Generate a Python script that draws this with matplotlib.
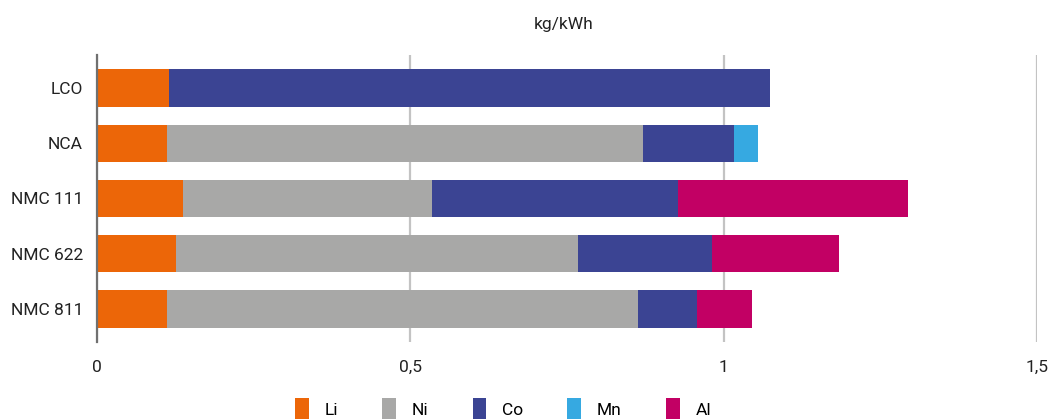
import numpy as np
import matplotlib.pyplot as plt
from matplotlib.patches import Patch

# battery chemistries, top to bottom
chemistries = ["LCO", "NCA", "NMC 111", "NMC 622", "NMC 811"]

# kg/kWh per metal (colours as in the original chart)
li = [0.115, 0.111, 0.137, 0.126, 0.111]
ni = [0.0, 0.760, 0.398, 0.642, 0.752]
co = [0.959, 0.146, 0.392, 0.213, 0.095]
mn = [0.0, 0.038, 0.0, 0.0, 0.0]
al = [0.0, 0.0, 0.367, 0.203, 0.087]

series = ["Li", "Ni", "Co", "Mn", "Al"]
colors = ["#EC6608", "#A8A8A7", "#3B4493", "#36A9E1", "#C20064"]

plt.rcParams['font.family'] = ['Roboto', 'DejaVu Sans']

fig = plt.figure(figsize=(10.53, 4.19), dpi=100)
ax = fig.add_axes([97/1053, 1 - 342/419, (1037 - 97)/1053, (342 - 55)/419])

y = np.arange(len(chemistries))
left = np.zeros(len(chemistries))
for vals, c in zip([li, ni, co, mn, al], colors):
    ax.barh(y, vals, left=left, height=0.68, color=c, zorder=3)
    left += np.array(vals)

ax.set_xlim(0, 1.5)
ax.set_ylim(4.6, -0.6)
ax.set_yticks(y)
ax.set_yticklabels(chemistries, fontsize=12.5, color="#222222")
ax.set_xticks([0, 0.5, 1, 1.5])
ax.set_xticklabels(["0", "0,5", "1", "1,5"], fontsize=12.5, color="#222222")
ax.tick_params(length=0, pad=13)
ax.tick_params(axis='y', pad=10)

ax.grid(axis='x', color="#C3C3C3", linewidth=1.6, zorder=0)
for s in ["top", "right", "bottom"]:
    ax.spines[s].set_visible(False)
ax.spines["left"].set_color("#707070")
ax.spines["left"].set_linewidth(1.6)
ax.spines["left"].set_zorder(4)

fig.text(564/1053, 1 - 25/419, "kg/kWh", ha='center', va='center', fontsize=12.5, color="#222222")

handles = [Patch(facecolor=c, label=s) for s, c in zip(series, colors)]
fig.legend(handles=handles, loc='center', bbox_to_anchor=(503/1053, 1 - 409/419),
           ncol=5, frameon=False, fontsize=12.5, handlelength=0.8, handleheight=1.6,
           columnspacing=2.55, handletextpad=0.9)

fig.savefig("out.png", dpi=100)
